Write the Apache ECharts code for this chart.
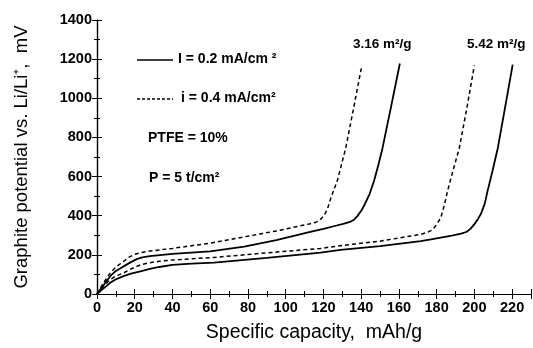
<!DOCTYPE html>
<html><head><meta charset="utf-8">
<script src="https://cdn.jsdelivr.net/npm/echarts@6/dist/echarts.min.js"></script>
<style>html,body{margin:0;padding:0;background:#fff}#c{width:533px;height:348px}</style>
</head><body><div id="c"></div>
<script>
// capacity (mAh/g), potential (mV)
const solid316 = [[0,0],[3,40],[7,91],[10,118],[14,141],[18,163],[21,178],[24,187],[28,193],[40,205],[60,218],[78,242],[95,275],[113,317],[120,333],[127,350],[131,360],[134,368],[136,378],[138,398],[140,425],[142,460],[144.5,512],[146.8,577],[149,655],[151.3,745],[155.8,955],[160.5,1178]];
const dashed316 = [[0,0],[3,50],[7,107],[10,138],[14,166],[17,188],[20,203],[23,211],[27,218],[40,233],[60,260],[78,292],[95,322],[113,359],[116,367],[118,376],[119.5,392],[121,413],[122.5,445],[124,493],[125.5,532],[127.3,577],[131.8,745],[136,950],[140.3,1165]];
const solid542 = [[0,0],[3,25],[7,57],[10,75],[14,91],[18,104],[23,116],[28,128],[33,138],[40,149],[50,155],[62,160],[90,185],[118.5,211],[129,225],[150,245],[171.6,270],[177,279],[188,298],[193,309],[196,318],[198,334],[200,357],[202,385],[203.5,410],[205.5,462],[207,527],[209.5,625],[212.4,745],[216.3,955],[220.3,1172]];
const dashed542 = [[0,0],[3,35],[7,74],[10,92],[14,107],[18,128],[23,149],[28,160],[33,167],[40,174],[62,187],[90,210],[118.5,233],[129,247],[150,270],[171.6,305],[175,315],[177,324],[179,342],[180.5,362],[182.3,393],[184,452],[185.8,527],[188.5,625],[192,745],[196,950],[200,1168]];
const xTicks = [0,20,40,60,80,100,120,140,160,180,200,220];
const yTicks = [0,200,400,600,800,1000,1200,1400];
const legendSolid = 'I = 0.2 mA/cm\u00a0\u00b2';
const legendDashed = 'i = 0.4 mA/cm\u00b2';
const note1 = 'PTFE = 10%';
const note2 = 'P = 5 t/cm\u00b2';
const area1 = '3.16 m\u00b2/g';
const area2 = '5.42 m\u00b2/g';

const chart = echarts.init(document.getElementById('c'));
const F = 'Liberation Sans, Arial, sans-serif';
const tickLbl = {fontFamily:F, fontWeight:'bold', fontSize:14.5, color:'#000'};
const solidStyle = {color:'#000', width:1.8, type:'solid'};
const dashStyle = {color:'#000', width:1.5, type:[4,3]};
function mk(name, data, ls){
  return {name, type:'line', data, xAxisIndex:0, yAxisIndex:0, showSymbol:false, smooth:false, lineStyle:ls, silent:true};
}
chart.setOption({
  animation:false,
  backgroundColor:'#fff',
  grid:{left:97, right:2, top:20, bottom:50, show:false},
  xAxis:[{
    type:'value', min:0, max:230, interval:20, position:'bottom',
    name:'Specific capacity,  mAh/g', nameLocation:'middle', nameGap:29,
    nameTextStyle:{fontFamily:F, fontSize:19.5, color:'#000'},
    axisLine:{show:true, onZero:false, lineStyle:{color:'#000', width:1.2}},
    axisTick:{show:true, inside:true, length:5, lineStyle:{color:'#000'}},
    minorTick:{show:true, splitNumber:2, length:3, lineStyle:{color:'#000'}},
    axisLabel:{...tickLbl, margin:6, showMaxLabel:false, formatter:v=>xTicks.includes(v)?String(v):''},
    splitLine:{show:false}
  },{
    type:'value', min:0, max:230, interval:20, position:'top',
    axisLine:{show:true, lineStyle:{color:'#000', width:1.2}},
    axisTick:{show:true, inside:true, length:5, lineStyle:{color:'#000'}},
    minorTick:{show:true, splitNumber:2, length:3, lineStyle:{color:'#000'}},
    axisLabel:{show:false}, splitLine:{show:false}
  }],
  yAxis:[{
    type:'value', min:0, max:1400, interval:200, position:'left',
    name:'Graphite potential vs. Li/Li\u207a,  mV', nameLocation:'middle', nameGap:66, nameRotate:90,
    nameTextStyle:{fontFamily:F, fontSize:18.5, color:'#000'},
    axisLine:{show:true, onZero:false, lineStyle:{color:'#000', width:1.2}},
    axisTick:{show:true, inside:true, length:5, lineStyle:{color:'#000'}},
    minorTick:{show:true, splitNumber:2, length:3, lineStyle:{color:'#000'}},
    axisLabel:{...tickLbl, margin:5, formatter:v=>yTicks.includes(v)?String(v):''},
    splitLine:{show:false}
  },{
    type:'value', min:0, max:1400, interval:200, position:'right',
    axisLine:{show:true, lineStyle:{color:'#000', width:1.2}},
    axisTick:{show:true, inside:true, length:5, lineStyle:{color:'#000'}},
    minorTick:{show:true, splitNumber:2, length:3, lineStyle:{color:'#000'}},
    axisLabel:{show:false}, splitLine:{show:false}
  }],
  series:[
    mk('3.16 solid', solid316, solidStyle),
    mk('3.16 dashed', dashed316, dashStyle),
    mk('5.42 solid', solid542, solidStyle),
    mk('5.42 dashed', dashed542, dashStyle)
  ],
  graphic:[
    {type:'line', shape:{x1:137,y1:60,x2:173,y2:60}, style:{stroke:'#000', lineWidth:1.5}},
    {type:'text', left:178, top:52, style:{text:legendSolid, font:'bold 14px '+F, fill:'#000'}},
    {type:'line', shape:{x1:137,y1:99,x2:173,y2:99}, style:{stroke:'#000', lineWidth:1.3, lineDash:[3,2]}},
    {type:'text', left:181, top:91, style:{text:legendDashed, font:'bold 14px '+F, fill:'#000'}},
    {type:'text', left:148, top:131, style:{text:note1, font:'bold 14px '+F, fill:'#000'}},
    {type:'text', left:149, top:171, style:{text:note2, font:'bold 14px '+F, fill:'#000'}},
    {type:'text', left:353, top:37, style:{text:area1, font:'bold 13.5px '+F, fill:'#000'}},
    {type:'text', left:467, top:37, style:{text:area2, font:'bold 13.5px '+F, fill:'#000'}}
  ]
});
</script></body></html>
